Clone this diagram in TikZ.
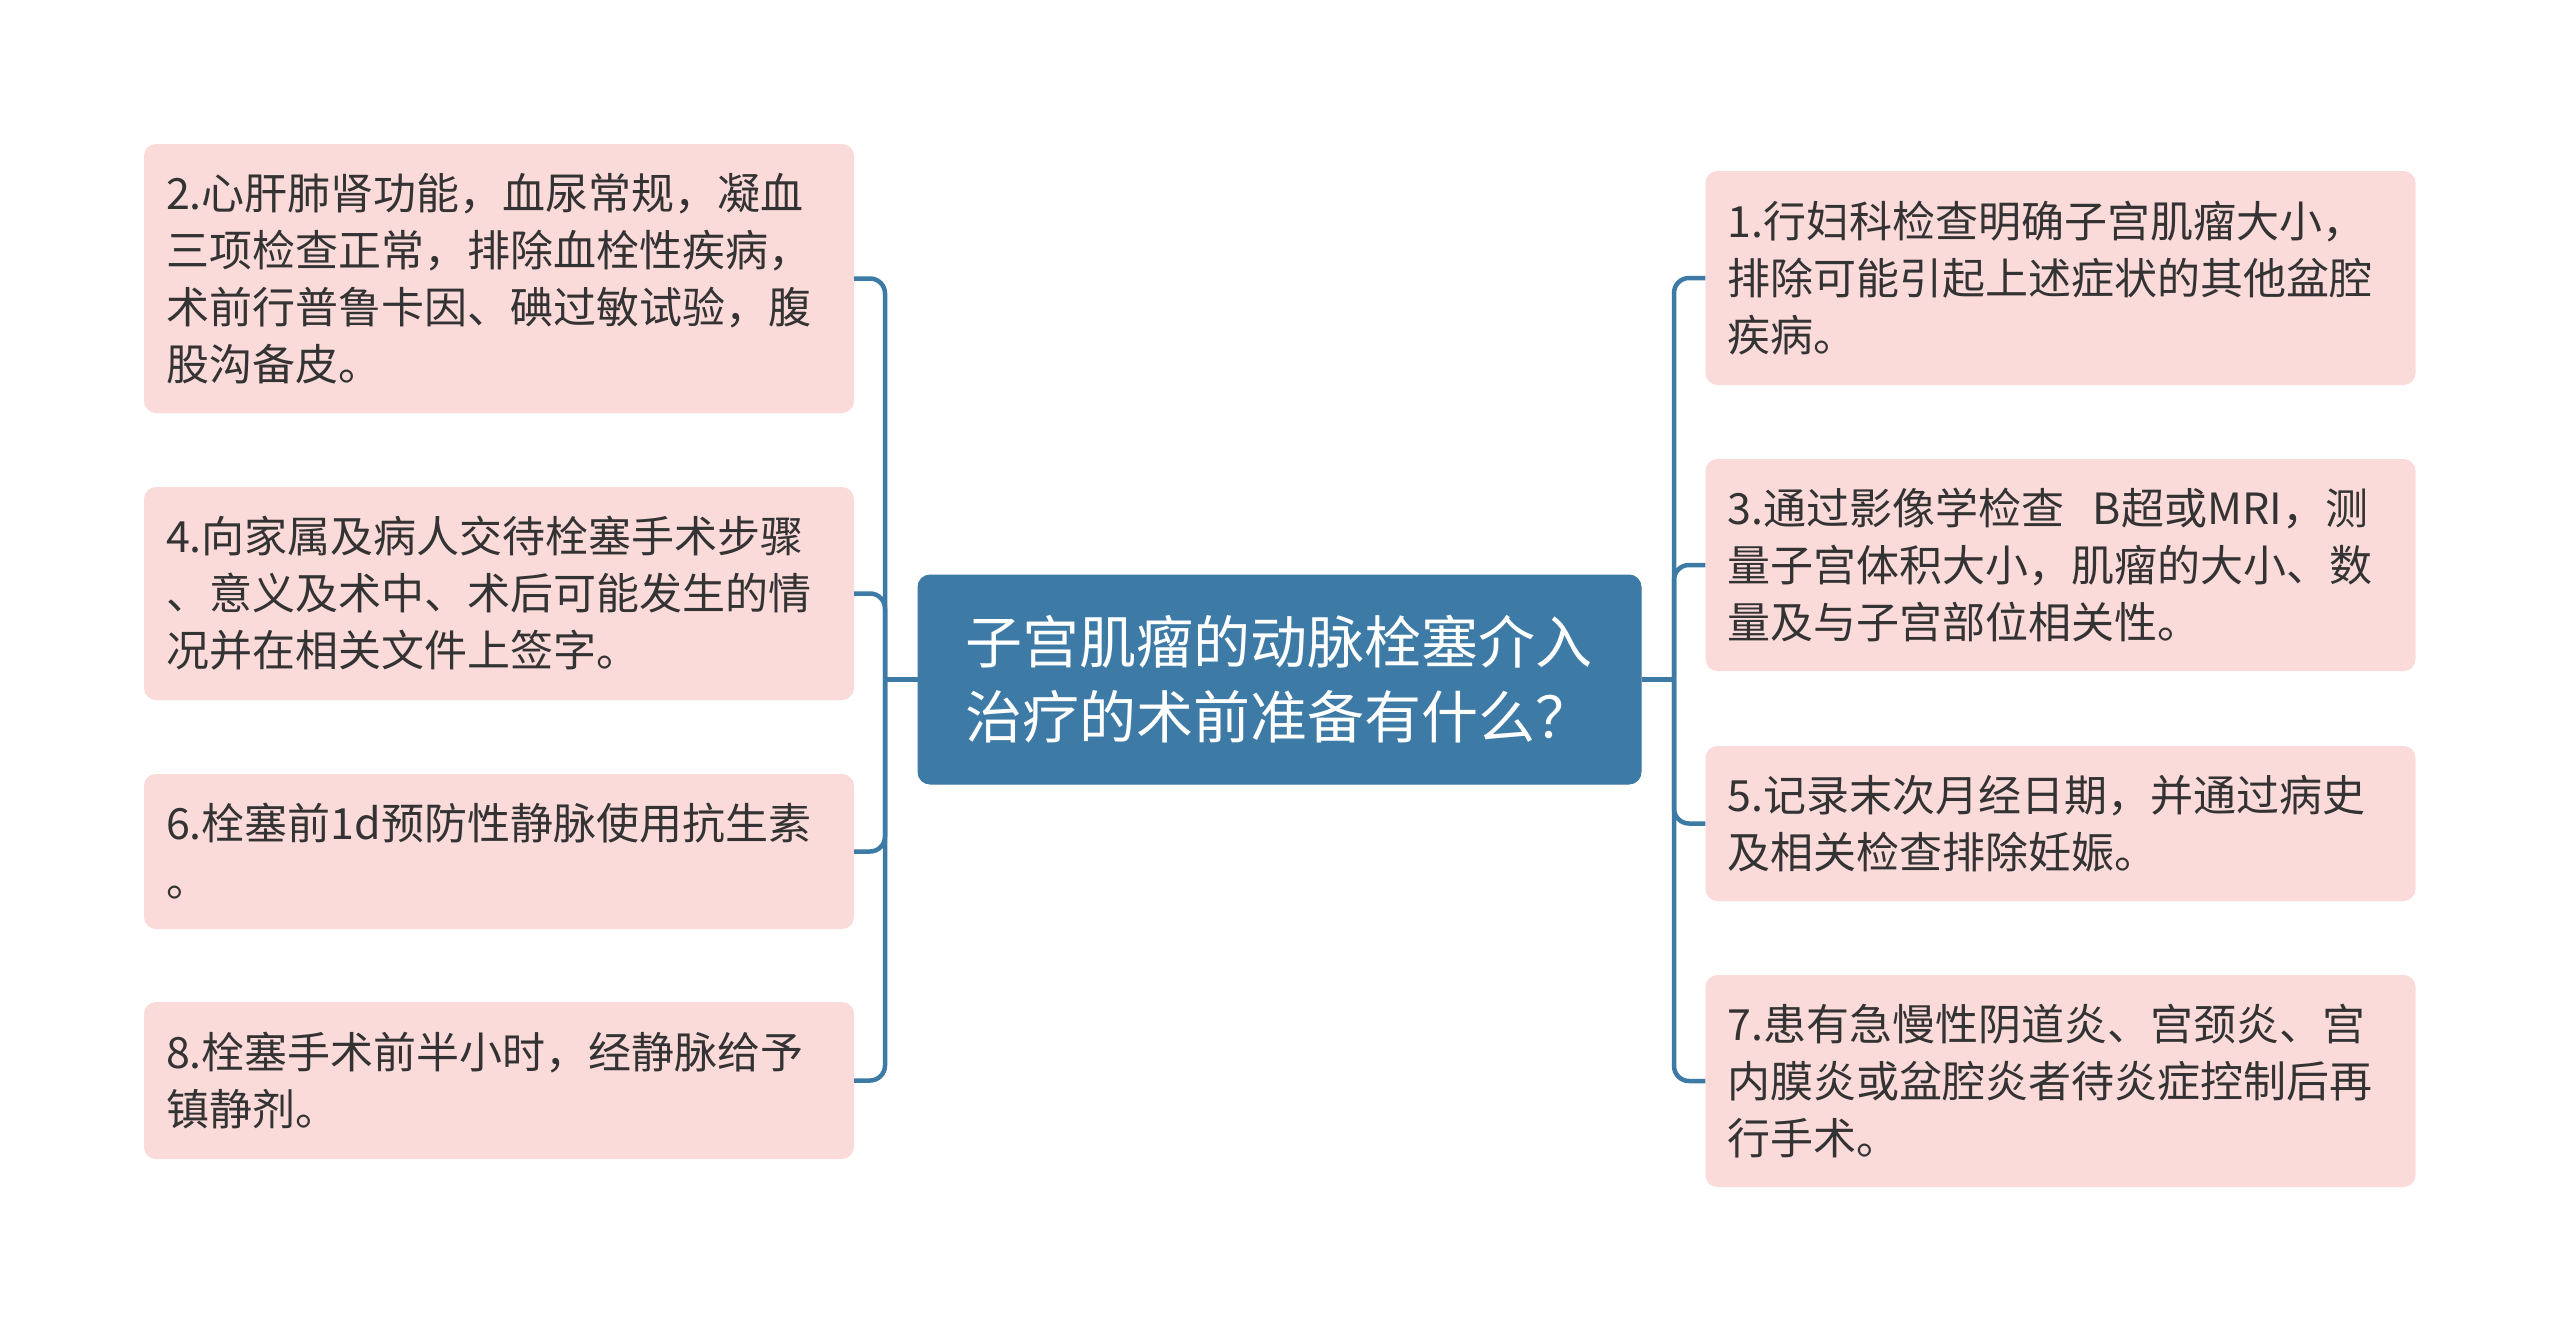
\documentclass[tikz,border=0pt]{standalone}
\usepackage{fontspec}
\setmainfont{Noto Sans CJK SC}
\definecolor{trunk}{HTML}{3D7AA5}
\definecolor{leaffill}{HTML}{FBDADA}
\definecolor{leaftext}{HTML}{333333}
\tikzset{
  rootbox/.style={draw=trunk, fill=trunk, line width=1pt, rounded corners=12pt, text=white,
    font=\fontsize{57}{75}\selectfont, align=left, text width=629pt, inner xsep=47pt, inner ysep=0pt,
    minimum width=723pt, minimum height=209pt},
  leafbox/.style={fill=leaffill, rounded corners=12pt, text=leaftext,
    font=\fontsize{43}{57}\selectfont, align=left, text width=666pt, inner xsep=22pt, inner ysep=0pt,
    minimum width=710pt},
  conn/.style={draw=trunk, line width=4.5pt, rounded corners=15pt},
}
\begin{document}
\begin{tikzpicture}[x=1pt,y=-1pt]
\useasboundingbox (0,0) rectangle (2560,1333);
\fill[white] (0,0) rectangle (2560,1333);

\node[rootbox] (root) at (1279.5,679.5) {子宫肌瘤的动脉栓塞介入\\治疗的术前准备有什么？};

\node[leafbox, minimum height=269pt] (b2) at (499,278.5) {2.心肝肺肾功能，血尿常规，凝血\\三项检查正常，排除血栓性疾病，\\术前行普鲁卡因、碘过敏试验，腹\\股沟备皮。};
\node[leafbox, minimum height=213pt] (b4) at (499,593.5) {4.向家属及病人交待栓塞手术步骤\\、意义及术中、术后可能发生的情\\况并在相关文件上签字。};
\node[leafbox, minimum height=155pt] (b6) at (499,851.5) {6.栓塞前1d预防性静脉使用抗生素\\。};
\node[leafbox, minimum height=157pt] (b8) at (499,1080.5) {8.栓塞手术前半小时，经静脉给予\\镇静剂。};

\node[leafbox, minimum height=214pt] (b1) at (2060.5,278) {1.行妇科检查明确子宫肌瘤大小，\\排除可能引起上述症状的其他盆腔\\疾病。};
\node[leafbox, minimum height=212pt] (b3) at (2060.5,565) {3.通过影像学检查~~B超或MRI，测\\量子宫体积大小，肌瘤的大小、数\\量及与子宫部位相关性。};
\node[leafbox, minimum height=155pt] (b5) at (2060.5,823.5) {5.记录末次月经日期，并通过病史\\及相关检查排除妊娠。};
\node[leafbox, minimum height=212pt] (b7) at (2060.5,1081) {7.患有急慢性阴道炎、宫颈炎、宫\\内膜炎或盆腔炎者待炎症控制后再\\行手术。};

\coordinate (lj) at (885,679.5);
\coordinate (rj) at (1674,679.5);

\draw[conn] (root.west) -- (lj);
\draw[conn] (root.east) -- (rj);
\foreach \b in {b2,b4,b6,b8} { \draw[conn] (lj) |- (\b.east); }
\foreach \b in {b1,b3,b5,b7} { \draw[conn] (rj) |- (\b.west); }
\end{tikzpicture}
\end{document}
